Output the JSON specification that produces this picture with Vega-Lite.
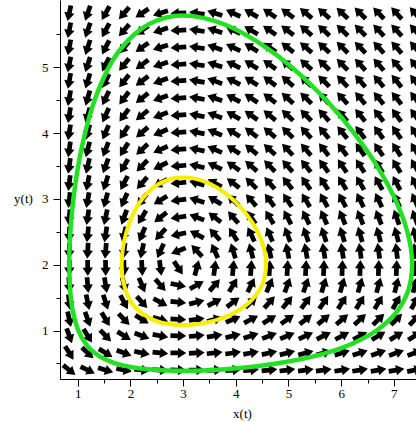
{
  "$schema": "https://vega.github.io/schema/vega-lite/v6.json",
  "width": 356,
  "height": 379,
  "autosize": {"type": "none"},
  "padding": {"left": 60, "top": 0, "right": 0, "bottom": 43},
  "background": "white",
  "config": {
    "view": {"stroke": null},
    "axis": {
      "domainColor": "black", "tickColor": "black", "labelColor": "black", "titleColor": "black",
      "labelFont": "Liberation Serif", "titleFont": "Liberation Serif",
      "labelFontSize": 13, "titleFontSize": 13, "titleFontWeight": "normal",
      "grid": false, "domainWidth": 1, "tickWidth": 1, "labelFlush": false, "labelOverlap": false
    }
  },
  "resolve": {"axis": {"x": "independent", "y": "independent"}},
  "datasets": {
    "arrows": [
      {"x":0.84,"y":0.4,"a":39},{"x":1.19,"y":0.4,"a":25},{"x":1.53,"y":0.4,"a":17},{"x":1.88,"y":0.4,"a":11},{"x":2.22,"y":0.4,"a":6},{"x":2.57,"y":0.4,"a":3},{"x":2.91,"y":0.4,"a":1},{"x":3.26,"y":0.4,"a":359},{"x":3.6,"y":0.4,"a":357},{"x":3.95,"y":0.4,"a":356},{"x":4.29,"y":0.4,"a":355},{"x":4.64,"y":0.4,"a":354},{"x":4.98,"y":0.4,"a":353},{"x":5.33,"y":0.4,"a":352},{"x":5.67,"y":0.4,"a":352},{"x":6.02,"y":0.4,"a":351},{"x":6.36,"y":0.4,"a":351},{"x":6.71,"y":0.4,"a":350},{"x":7.05,"y":0.4,"a":350},{"x":7.4,"y":0.4,"a":349},
      {"x":0.84,"y":0.66,"a":58},{"x":1.19,"y":0.66,"a":43},{"x":1.53,"y":0.66,"a":31},{"x":1.88,"y":0.66,"a":20},{"x":2.22,"y":0.66,"a":12},{"x":2.57,"y":0.66,"a":6},{"x":2.91,"y":0.66,"a":1},{"x":3.26,"y":0.66,"a":357},{"x":3.6,"y":0.66,"a":354},{"x":3.95,"y":0.66,"a":352},{"x":4.29,"y":0.66,"a":350},{"x":4.64,"y":0.66,"a":348},{"x":4.98,"y":0.66,"a":346},{"x":5.33,"y":0.66,"a":345},{"x":5.67,"y":0.66,"a":344},{"x":6.02,"y":0.66,"a":343},{"x":6.36,"y":0.66,"a":342},{"x":6.71,"y":0.66,"a":341},{"x":7.05,"y":0.66,"a":340},{"x":7.4,"y":0.66,"a":340},
      {"x":0.84,"y":0.92,"a":70},{"x":1.19,"y":0.92,"a":58},{"x":1.53,"y":0.92,"a":46},{"x":1.88,"y":0.92,"a":32},{"x":2.22,"y":0.92,"a":21},{"x":2.57,"y":0.92,"a":10},{"x":2.91,"y":0.92,"a":2},{"x":3.26,"y":0.92,"a":355},{"x":3.6,"y":0.92,"a":350},{"x":3.95,"y":0.92,"a":346},{"x":4.29,"y":0.92,"a":342},{"x":4.64,"y":0.92,"a":339},{"x":4.98,"y":0.92,"a":337},{"x":5.33,"y":0.92,"a":335},{"x":5.67,"y":0.92,"a":333},{"x":6.02,"y":0.92,"a":332},{"x":6.36,"y":0.92,"a":331},{"x":6.71,"y":0.92,"a":330},{"x":7.05,"y":0.92,"a":329},{"x":7.4,"y":0.92,"a":328},
      {"x":0.84,"y":1.17,"a":78},{"x":1.19,"y":1.17,"a":70},{"x":1.53,"y":1.17,"a":59},{"x":1.88,"y":1.17,"a":46},{"x":2.22,"y":1.17,"a":32},{"x":2.57,"y":1.17,"a":16},{"x":2.91,"y":1.17,"a":3},{"x":3.26,"y":1.17,"a":352},{"x":3.6,"y":1.17,"a":344},{"x":3.95,"y":1.17,"a":337},{"x":4.29,"y":1.17,"a":332},{"x":4.64,"y":1.17,"a":328},{"x":4.98,"y":1.17,"a":325},{"x":5.33,"y":1.17,"a":322},{"x":5.67,"y":1.17,"a":320},{"x":6.02,"y":1.17,"a":319},{"x":6.36,"y":1.17,"a":317},{"x":6.71,"y":1.17,"a":316},{"x":7.05,"y":1.17,"a":315},{"x":7.4,"y":1.17,"a":314},
      {"x":0.84,"y":1.43,"a":83},{"x":1.19,"y":1.43,"a":78},{"x":1.53,"y":1.43,"a":72},{"x":1.88,"y":1.43,"a":62},{"x":2.22,"y":1.43,"a":48},{"x":2.57,"y":1.43,"a":28},{"x":2.91,"y":1.43,"a":6},{"x":3.26,"y":1.43,"a":346},{"x":3.6,"y":1.43,"a":332},{"x":3.95,"y":1.43,"a":323},{"x":4.29,"y":1.43,"a":317},{"x":4.64,"y":1.43,"a":312},{"x":4.98,"y":1.43,"a":309},{"x":5.33,"y":1.43,"a":306},{"x":5.67,"y":1.43,"a":304},{"x":6.02,"y":1.43,"a":302},{"x":6.36,"y":1.43,"a":301},{"x":6.71,"y":1.43,"a":300},{"x":7.05,"y":1.43,"a":299},{"x":7.4,"y":1.43,"a":298},
      {"x":0.84,"y":1.69,"a":87},{"x":1.19,"y":1.69,"a":85},{"x":1.53,"y":1.69,"a":81},{"x":1.88,"y":1.69,"a":76},{"x":2.22,"y":1.69,"a":67},{"x":2.57,"y":1.69,"a":49},{"x":2.91,"y":1.69,"a":12},{"x":3.26,"y":1.69,"a":331},{"x":3.6,"y":1.69,"a":311},{"x":3.95,"y":1.69,"a":301},{"x":4.29,"y":1.69,"a":296},{"x":4.64,"y":1.69,"a":293},{"x":4.98,"y":1.69,"a":290},{"x":5.33,"y":1.69,"a":289},{"x":5.67,"y":1.69,"a":287},{"x":6.02,"y":1.69,"a":286},{"x":6.36,"y":1.69,"a":286},{"x":6.71,"y":1.69,"a":285},{"x":7.05,"y":1.69,"a":284},{"x":7.4,"y":1.69,"a":284},
      {"x":0.84,"y":1.95,"a":90},{"x":1.19,"y":1.95,"a":89},{"x":1.53,"y":1.95,"a":89},{"x":1.88,"y":1.95,"a":88},{"x":2.22,"y":1.95,"a":87},{"x":2.57,"y":1.95,"a":83},{"x":2.91,"y":1.95,"a":56},{"x":3.26,"y":1.95,"a":285},{"x":3.6,"y":1.95,"a":277},{"x":3.95,"y":1.95,"a":275},{"x":4.29,"y":1.95,"a":274},{"x":4.64,"y":1.95,"a":273},{"x":4.98,"y":1.95,"a":273},{"x":5.33,"y":1.95,"a":273},{"x":5.67,"y":1.95,"a":272},{"x":6.02,"y":1.95,"a":272},{"x":6.36,"y":1.95,"a":272},{"x":6.71,"y":1.95,"a":272},{"x":7.05,"y":1.95,"a":272},{"x":7.4,"y":1.95,"a":272},
      {"x":0.84,"y":2.21,"a":92},{"x":1.19,"y":2.21,"a":93},{"x":1.53,"y":2.21,"a":95},{"x":1.88,"y":2.21,"a":97},{"x":2.22,"y":2.21,"a":102},{"x":2.57,"y":2.21,"a":114},{"x":2.91,"y":2.21,"a":158},{"x":3.26,"y":2.21,"a":227},{"x":3.6,"y":2.21,"a":246},{"x":3.95,"y":2.21,"a":253},{"x":4.29,"y":2.21,"a":256},{"x":4.64,"y":2.21,"a":258},{"x":4.98,"y":2.21,"a":259},{"x":5.33,"y":2.21,"a":260},{"x":5.67,"y":2.21,"a":261},{"x":6.02,"y":2.21,"a":261},{"x":6.36,"y":2.21,"a":262},{"x":6.71,"y":2.21,"a":262},{"x":7.05,"y":2.21,"a":263},{"x":7.4,"y":2.21,"a":263},
      {"x":0.84,"y":2.46,"a":93},{"x":1.19,"y":2.46,"a":96},{"x":1.53,"y":2.46,"a":99},{"x":1.88,"y":2.46,"a":104},{"x":2.22,"y":2.46,"a":113},{"x":2.57,"y":2.46,"a":132},{"x":2.91,"y":2.46,"a":168},{"x":3.26,"y":2.46,"a":208},{"x":3.6,"y":2.46,"a":228},{"x":3.95,"y":2.46,"a":238},{"x":4.29,"y":2.46,"a":244},{"x":4.64,"y":2.46,"a":247},{"x":4.98,"y":2.46,"a":249},{"x":5.33,"y":2.46,"a":251},{"x":5.67,"y":2.46,"a":252},{"x":6.02,"y":2.46,"a":253},{"x":6.36,"y":2.46,"a":254},{"x":6.71,"y":2.46,"a":255},{"x":7.05,"y":2.46,"a":255},{"x":7.4,"y":2.46,"a":256},
      {"x":0.84,"y":2.72,"a":95},{"x":1.19,"y":2.72,"a":98},{"x":1.53,"y":2.72,"a":102},{"x":1.88,"y":2.72,"a":110},{"x":2.22,"y":2.72,"a":121},{"x":2.57,"y":2.72,"a":142},{"x":2.91,"y":2.72,"a":172},{"x":3.26,"y":2.72,"a":201},{"x":3.6,"y":2.72,"a":218},{"x":3.95,"y":2.72,"a":229},{"x":4.29,"y":2.72,"a":235},{"x":4.64,"y":2.72,"a":239},{"x":4.98,"y":2.72,"a":242},{"x":5.33,"y":2.72,"a":244},{"x":5.67,"y":2.72,"a":246},{"x":6.02,"y":2.72,"a":247},{"x":6.36,"y":2.72,"a":248},{"x":6.71,"y":2.72,"a":249},{"x":7.05,"y":2.72,"a":250},{"x":7.4,"y":2.72,"a":250},
      {"x":0.84,"y":2.98,"a":96},{"x":1.19,"y":2.98,"a":100},{"x":1.53,"y":2.98,"a":105},{"x":1.88,"y":2.98,"a":114},{"x":2.22,"y":2.98,"a":127},{"x":2.57,"y":2.98,"a":148},{"x":2.91,"y":2.98,"a":173},{"x":3.26,"y":2.98,"a":197},{"x":3.6,"y":2.98,"a":212},{"x":3.95,"y":2.98,"a":223},{"x":4.29,"y":2.98,"a":229},{"x":4.64,"y":2.98,"a":233},{"x":4.98,"y":2.98,"a":237},{"x":5.33,"y":2.98,"a":239},{"x":5.67,"y":2.98,"a":241},{"x":6.02,"y":2.98,"a":242},{"x":6.36,"y":2.98,"a":244},{"x":6.71,"y":2.98,"a":245},{"x":7.05,"y":2.98,"a":245},{"x":7.4,"y":2.98,"a":246},
      {"x":0.84,"y":3.24,"a":97},{"x":1.19,"y":3.24,"a":101},{"x":1.53,"y":3.24,"a":108},{"x":1.88,"y":3.24,"a":117},{"x":2.22,"y":3.24,"a":131},{"x":2.57,"y":3.24,"a":151},{"x":2.91,"y":3.24,"a":174},{"x":3.26,"y":3.24,"a":195},{"x":3.6,"y":3.24,"a":209},{"x":3.95,"y":3.24,"a":218},{"x":4.29,"y":3.24,"a":225},{"x":4.64,"y":3.24,"a":229},{"x":4.98,"y":3.24,"a":232},{"x":5.33,"y":3.24,"a":235},{"x":5.67,"y":3.24,"a":237},{"x":6.02,"y":3.24,"a":239},{"x":6.36,"y":3.24,"a":240},{"x":6.71,"y":3.24,"a":241},{"x":7.05,"y":3.24,"a":242},{"x":7.4,"y":3.24,"a":243},
      {"x":0.84,"y":3.5,"a":98},{"x":1.19,"y":3.5,"a":103},{"x":1.53,"y":3.5,"a":110},{"x":1.88,"y":3.5,"a":120},{"x":2.22,"y":3.5,"a":134},{"x":2.57,"y":3.5,"a":154},{"x":2.91,"y":3.5,"a":175},{"x":3.26,"y":3.5,"a":193},{"x":3.6,"y":3.5,"a":206},{"x":3.95,"y":3.5,"a":215},{"x":4.29,"y":3.5,"a":221},{"x":4.64,"y":3.5,"a":226},{"x":4.98,"y":3.5,"a":229},{"x":5.33,"y":3.5,"a":232},{"x":5.67,"y":3.5,"a":234},{"x":6.02,"y":3.5,"a":236},{"x":6.36,"y":3.5,"a":237},{"x":6.71,"y":3.5,"a":238},{"x":7.05,"y":3.5,"a":239},{"x":7.4,"y":3.5,"a":240},
      {"x":0.84,"y":3.75,"a":98},{"x":1.19,"y":3.75,"a":104},{"x":1.53,"y":3.75,"a":111},{"x":1.88,"y":3.75,"a":122},{"x":2.22,"y":3.75,"a":137},{"x":2.57,"y":3.75,"a":156},{"x":2.91,"y":3.75,"a":175},{"x":3.26,"y":3.75,"a":192},{"x":3.6,"y":3.75,"a":204},{"x":3.95,"y":3.75,"a":213},{"x":4.29,"y":3.75,"a":219},{"x":4.64,"y":3.75,"a":223},{"x":4.98,"y":3.75,"a":227},{"x":5.33,"y":3.75,"a":230},{"x":5.67,"y":3.75,"a":232},{"x":6.02,"y":3.75,"a":233},{"x":6.36,"y":3.75,"a":235},{"x":6.71,"y":3.75,"a":236},{"x":7.05,"y":3.75,"a":237},{"x":7.4,"y":3.75,"a":238},
      {"x":0.84,"y":4.01,"a":99},{"x":1.19,"y":4.01,"a":105},{"x":1.53,"y":4.01,"a":113},{"x":1.88,"y":4.01,"a":124},{"x":2.22,"y":4.01,"a":139},{"x":2.57,"y":4.01,"a":157},{"x":2.91,"y":4.01,"a":176},{"x":3.26,"y":4.01,"a":191},{"x":3.6,"y":4.01,"a":203},{"x":3.95,"y":4.01,"a":211},{"x":4.29,"y":4.01,"a":217},{"x":4.64,"y":4.01,"a":221},{"x":4.98,"y":4.01,"a":225},{"x":5.33,"y":4.01,"a":228},{"x":5.67,"y":4.01,"a":230},{"x":6.02,"y":4.01,"a":231},{"x":6.36,"y":4.01,"a":233},{"x":6.71,"y":4.01,"a":234},{"x":7.05,"y":4.01,"a":235},{"x":7.4,"y":4.01,"a":236},
      {"x":0.84,"y":4.27,"a":99},{"x":1.19,"y":4.27,"a":106},{"x":1.53,"y":4.27,"a":114},{"x":1.88,"y":4.27,"a":126},{"x":2.22,"y":4.27,"a":141},{"x":2.57,"y":4.27,"a":159},{"x":2.91,"y":4.27,"a":176},{"x":3.26,"y":4.27,"a":191},{"x":3.6,"y":4.27,"a":201},{"x":3.95,"y":4.27,"a":210},{"x":4.29,"y":4.27,"a":215},{"x":4.64,"y":4.27,"a":220},{"x":4.98,"y":4.27,"a":223},{"x":5.33,"y":4.27,"a":226},{"x":5.67,"y":4.27,"a":228},{"x":6.02,"y":4.27,"a":230},{"x":6.36,"y":4.27,"a":231},{"x":6.71,"y":4.27,"a":232},{"x":7.05,"y":4.27,"a":234},{"x":7.4,"y":4.27,"a":234},
      {"x":0.84,"y":4.53,"a":100},{"x":1.19,"y":4.53,"a":106},{"x":1.53,"y":4.53,"a":115},{"x":1.88,"y":4.53,"a":127},{"x":2.22,"y":4.53,"a":142},{"x":2.57,"y":4.53,"a":160},{"x":2.91,"y":4.53,"a":176},{"x":3.26,"y":4.53,"a":190},{"x":3.6,"y":4.53,"a":200},{"x":3.95,"y":4.53,"a":208},{"x":4.29,"y":4.53,"a":214},{"x":4.64,"y":4.53,"a":218},{"x":4.98,"y":4.53,"a":222},{"x":5.33,"y":4.53,"a":224},{"x":5.67,"y":4.53,"a":227},{"x":6.02,"y":4.53,"a":228},{"x":6.36,"y":4.53,"a":230},{"x":6.71,"y":4.53,"a":231},{"x":7.05,"y":4.53,"a":232},{"x":7.4,"y":4.53,"a":233},
      {"x":0.84,"y":4.79,"a":100},{"x":1.19,"y":4.79,"a":107},{"x":1.53,"y":4.79,"a":116},{"x":1.88,"y":4.79,"a":128},{"x":2.22,"y":4.79,"a":143},{"x":2.57,"y":4.79,"a":160},{"x":2.91,"y":4.79,"a":176},{"x":3.26,"y":4.79,"a":190},{"x":3.6,"y":4.79,"a":200},{"x":3.95,"y":4.79,"a":207},{"x":4.29,"y":4.79,"a":213},{"x":4.64,"y":4.79,"a":217},{"x":4.98,"y":4.79,"a":221},{"x":5.33,"y":4.79,"a":223},{"x":5.67,"y":4.79,"a":225},{"x":6.02,"y":4.79,"a":227},{"x":6.36,"y":4.79,"a":229},{"x":6.71,"y":4.79,"a":230},{"x":7.05,"y":4.79,"a":231},{"x":7.4,"y":4.79,"a":232},
      {"x":0.84,"y":5.04,"a":101},{"x":1.19,"y":5.04,"a":108},{"x":1.53,"y":5.04,"a":117},{"x":1.88,"y":5.04,"a":129},{"x":2.22,"y":5.04,"a":144},{"x":2.57,"y":5.04,"a":161},{"x":2.91,"y":5.04,"a":176},{"x":3.26,"y":5.04,"a":189},{"x":3.6,"y":5.04,"a":199},{"x":3.95,"y":5.04,"a":207},{"x":4.29,"y":5.04,"a":212},{"x":4.64,"y":5.04,"a":216},{"x":4.98,"y":5.04,"a":220},{"x":5.33,"y":5.04,"a":222},{"x":5.67,"y":5.04,"a":224},{"x":6.02,"y":5.04,"a":226},{"x":6.36,"y":5.04,"a":228},{"x":6.71,"y":5.04,"a":229},{"x":7.05,"y":5.04,"a":230},{"x":7.4,"y":5.04,"a":231},
      {"x":0.84,"y":5.3,"a":101},{"x":1.19,"y":5.3,"a":108},{"x":1.53,"y":5.3,"a":117},{"x":1.88,"y":5.3,"a":130},{"x":2.22,"y":5.3,"a":145},{"x":2.57,"y":5.3,"a":162},{"x":2.91,"y":5.3,"a":176},{"x":3.26,"y":5.3,"a":189},{"x":3.6,"y":5.3,"a":199},{"x":3.95,"y":5.3,"a":206},{"x":4.29,"y":5.3,"a":211},{"x":4.64,"y":5.3,"a":215},{"x":4.98,"y":5.3,"a":219},{"x":5.33,"y":5.3,"a":221},{"x":5.67,"y":5.3,"a":223},{"x":6.02,"y":5.3,"a":225},{"x":6.36,"y":5.3,"a":227},{"x":6.71,"y":5.3,"a":228},{"x":7.05,"y":5.3,"a":229},{"x":7.4,"y":5.3,"a":230},
      {"x":0.84,"y":5.56,"a":101},{"x":1.19,"y":5.56,"a":109},{"x":1.53,"y":5.56,"a":118},{"x":1.88,"y":5.56,"a":131},{"x":2.22,"y":5.56,"a":146},{"x":2.57,"y":5.56,"a":162},{"x":2.91,"y":5.56,"a":177},{"x":3.26,"y":5.56,"a":189},{"x":3.6,"y":5.56,"a":198},{"x":3.95,"y":5.56,"a":205},{"x":4.29,"y":5.56,"a":210},{"x":4.64,"y":5.56,"a":215},{"x":4.98,"y":5.56,"a":218},{"x":5.33,"y":5.56,"a":221},{"x":5.67,"y":5.56,"a":223},{"x":6.02,"y":5.56,"a":224},{"x":6.36,"y":5.56,"a":226},{"x":6.71,"y":5.56,"a":227},{"x":7.05,"y":5.56,"a":228},{"x":7.4,"y":5.56,"a":229},
      {"x":0.84,"y":5.82,"a":102},{"x":1.19,"y":5.82,"a":109},{"x":1.53,"y":5.82,"a":119},{"x":1.88,"y":5.82,"a":131},{"x":2.22,"y":5.82,"a":146},{"x":2.57,"y":5.82,"a":162},{"x":2.91,"y":5.82,"a":177},{"x":3.26,"y":5.82,"a":189},{"x":3.6,"y":5.82,"a":198},{"x":3.95,"y":5.82,"a":205},{"x":4.29,"y":5.82,"a":210},{"x":4.64,"y":5.82,"a":214},{"x":4.98,"y":5.82,"a":217},{"x":5.33,"y":5.82,"a":220},{"x":5.67,"y":5.82,"a":222},{"x":6.02,"y":5.82,"a":224},{"x":6.36,"y":5.82,"a":225},{"x":6.71,"y":5.82,"a":227},{"x":7.05,"y":5.82,"a":228},{"x":7.4,"y":5.82,"a":229}
    ],
    "outer": [
      {"i":0,"x":0.84,"y":2.0},{"i":1,"x":0.845,"y":2.25},{"i":2,"x":0.861,"y":2.5},{"i":3,"x":0.918,"y":3.0},{"i":4,"x":1.009,"y":3.5},{"i":5,"x":1.14,"y":4.0},{"i":6,"x":1.322,"y":4.5},{"i":7,"x":1.592,"y":5.0},{"i":8,"x":1.789,"y":5.25},{"i":9,"x":2.077,"y":5.5},{"i":10,"x":2.341,"y":5.65},{"i":11,"x":2.664,"y":5.75},{"i":12,"x":3.0,"y":5.783},{"i":13,"x":3.4,"y":5.745},{"i":14,"x":3.8,"y":5.644},{"i":15,"x":4.2,"y":5.487},{"i":16,"x":4.6,"y":5.285},{"i":17,"x":5.0,"y":5.041},{"i":18,"x":5.5,"y":4.676},{"i":19,"x":6.0,"y":4.242},{"i":20,"x":6.5,"y":3.719},{"i":21,"x":6.75,"y":3.407},{"i":22,"x":7.0,"y":3.036},{"i":23,"x":7.153,"y":2.75},{"i":24,"x":7.255,"y":2.5},{"i":25,"x":7.323,"y":2.25},{"i":26,"x":7.347,"y":2.0},{"i":27,"x":7.328,"y":1.8},{"i":28,"x":7.269,"y":1.6},{"i":29,"x":7.069,"y":1.3},{"i":30,"x":6.671,"y":1.0},{"i":31,"x":6.209,"y":0.8},{"i":32,"x":5.876,"y":0.7},{"i":33,"x":5.432,"y":0.6},{"i":34,"x":5.0,"y":0.529},{"i":35,"x":4.4,"y":0.458},{"i":36,"x":3.8,"y":0.413},{"i":37,"x":3.0,"y":0.39},{"i":38,"x":2.4,"y":0.408},{"i":39,"x":2.0,"y":0.447},{"i":40,"x":1.7,"y":0.506},{"i":41,"x":1.5,"y":0.571},{"i":42,"x":1.432,"y":0.6},{"i":43,"x":1.264,"y":0.7},{"i":44,"x":1.152,"y":0.8},{"i":45,"x":1.012,"y":1.0},{"i":46,"x":0.906,"y":1.3},{"i":47,"x":0.858,"y":1.6},{"i":48,"x":0.84,"y":2.0}
    ],
    "inner": [
      {"i":0,"x":1.835,"y":2.0},{"i":1,"x":1.857,"y":2.25},{"i":2,"x":1.926,"y":2.5},{"i":3,"x":2.041,"y":2.75},{"i":4,"x":2.227,"y":3.0},{"i":5,"x":2.486,"y":3.2},{"i":6,"x":2.8,"y":3.309},{"i":7,"x":3.0,"y":3.326},{"i":8,"x":3.2,"y":3.311},{"i":9,"x":3.5,"y":3.233},{"i":10,"x":3.8,"y":3.087},{"i":11,"x":4.0,"y":2.947},{"i":12,"x":4.2,"y":2.77},{"i":13,"x":4.415,"y":2.5},{"i":14,"x":4.535,"y":2.25},{"i":15,"x":4.576,"y":2.0},{"i":16,"x":4.503,"y":1.7},{"i":17,"x":4.287,"y":1.45},{"i":18,"x":4.1,"y":1.331},{"i":19,"x":3.926,"y":1.25},{"i":20,"x":3.6,"y":1.15},{"i":21,"x":3.3,"y":1.1},{"i":22,"x":3.0,"y":1.084},{"i":23,"x":2.7,"y":1.102},{"i":24,"x":2.4,"y":1.174},{"i":25,"x":2.1,"y":1.343},{"i":26,"x":1.965,"y":1.5},{"i":27,"x":1.862,"y":1.75},{"i":28,"x":1.835,"y":2.0}
    ]
  },
  "layer": [
    {
      "data": {"name": "arrows"},
      "mark": {"type": "point", "shape": "M-1,-0.3L-0.05,-0.3L-0.05,-0.66L1,0L-0.05,0.66L-0.05,0.3L-1,0.3Z", "filled": true, "color": "black", "opacity": 1, "size": 250, "strokeWidth": 0, "clip": true},
      "encoding": {
        "x": {"field": "x", "type": "quantitative", "scale": {"domain": [0.664, 7.42], "nice": false, "zero": false},
          "axis": {"orient": "bottom", "values": [1,2,3,4,5,6,7], "tickSize": 7, "labelPadding": 1,
            "title": "x(t)", "titleX": 182, "titleY": 38, "titleBaseline": "alphabetic", "titleAlign": "center"}},
        "y": {"field": "y", "type": "quantitative", "scale": {"domain": [0.264, 6.02], "nice": false, "zero": false},
          "axis": {"orient": "left", "values": [1,2,3,4,5], "tickSize": 7, "labelPadding": 5,
            "title": "y(t)", "titleAngle": 0, "titleX": -37, "titleY": 198, "titleBaseline": "middle", "titleAlign": "center"}},
        "angle": {"field": "a", "type": "quantitative", "scale": null}
      }
    },
    {
      "data": {"name": "outer"},
      "mark": {"type": "line", "color": "#22e022", "strokeWidth": 4.5, "interpolate": "catmull-rom", "clip": true},
      "encoding": {
        "x": {"field": "x", "type": "quantitative",
          "axis": {"orient": "bottom", "values": [1.5,2.5,3.5,4.5,5.5,6.5], "tickSize": 4, "labels": false, "domain": false, "title": null}},
        "y": {"field": "y", "type": "quantitative",
          "axis": {"orient": "left", "values": [0.5,1.5,2.5,3.5,4.5,5.5], "tickSize": 4, "labels": false, "domain": false, "title": null}},
        "order": {"field": "i", "type": "quantitative"}
      }
    },
    {
      "data": {"name": "inner"},
      "mark": {"type": "line", "color": "#f8ee00", "strokeWidth": 4, "interpolate": "catmull-rom", "clip": true},
      "encoding": {
        "x": {"field": "x", "type": "quantitative", "axis": null},
        "y": {"field": "y", "type": "quantitative", "axis": null},
        "order": {"field": "i", "type": "quantitative"}
      }
    }
  ]
}
